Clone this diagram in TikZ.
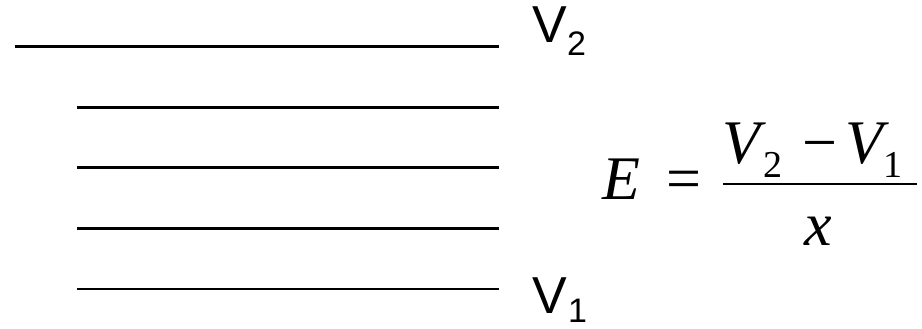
\documentclass[tikz,border=0pt]{standalone}
\usepackage{fontspec}
\setmainfont{Liberation Serif}
\newfontfamily\lblfont{Liberation Sans}
\usetikzlibrary{positioning}

\begin{document}
\begin{tikzpicture}[
  x=0.5pt, y=-0.5pt,
  plate/.style={line width=1.5pt},
  lbl/.style={inner sep=0pt, anchor=base west, font=\lblfont\fontsize{26}{26}\selectfont},
  eqn/.style={inner sep=0pt, anchor=base west, font=\fontsize{31}{31}\selectfont}
]
\useasboundingbox (0,0) rectangle (922,328);
% plates
\draw[plate] (15,46) -- (499,46);
\foreach \y in {107,167,228}
  \draw[plate] (77,\y) -- (499,\y);
\draw[line width=1.25pt] (77,289) -- (499,289);
% potentials
\node[lbl] (vtwo) at (532,42) {V\raisebox{-6.5pt}{\fontsize{17}{17}\selectfont 2}};
\node[lbl] (vone) at (532,313) {V\kern0.5pt\raisebox{-4.5pt}{\fontsize{17}{17}\selectfont 1}};
% field
\node[eqn] (E) at (602,199) {\itshape E};
\node[eqn] (eq) at (666,199) {=};
\node[eqn] (num) at (722,163) {\itshape V\kern1.5pt\raisebox{-7pt}{\upshape\fontsize{19}{19}\selectfont 2}\kern10pt\upshape −\kern4pt\itshape V\raisebox{-7pt}{\upshape\fontsize{19}{19}\selectfont 1}};
\node[eqn] (den) at (804,245) {\itshape x};
\coordinate (barl) at (723,184);
\coordinate (barr) at (917,184);
\draw[line width=1.2pt] (barl) -- (barr);
\end{tikzpicture}
\end{document}
